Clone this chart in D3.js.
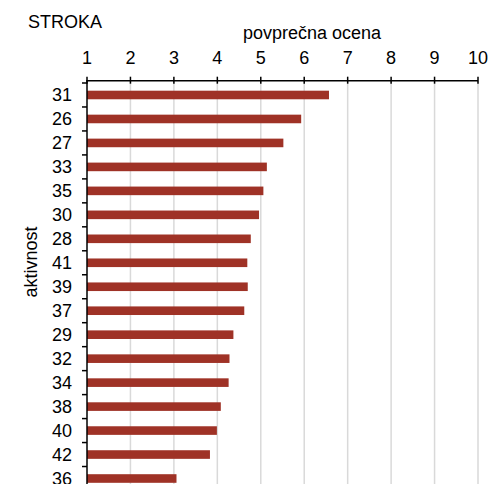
<!DOCTYPE html>
<html>
<head>
<meta charset="utf-8">
<script src="https://cdn.jsdelivr.net/npm/d3@7"></script>
<style>
  html, body { margin: 0; padding: 0; background: #fff; }
  svg { display: block; }
  text { font-family: "Liberation Sans", Arial, sans-serif; fill: #000; }
</style>
</head>
<body>
<svg id="chart" width="496" height="484"></svg>
<script>
// Activity codes, top to bottom, and their average ratings
const activities = ["31", "26", "27", "33", "35", "30", "28", "41", "39", "37", "29", "32", "34", "38", "40", "42", "36"];
const ratings = [6.57, 5.93, 5.52, 5.14, 5.06, 4.96, 4.77, 4.69, 4.70, 4.62, 4.37, 4.28, 4.26, 4.08, 3.99, 3.83, 3.06];
const xTicks = [1, 2, 3, 4, 5, 6, 7, 8, 9, 10];

const svg = d3.select("#chart");
const W = 496, H = 484;
const plotLeft = 87, plotRight = 478, axisY = 80.7;
const step = 23.97, bandTop = 83;
const fontSize = 18;

const x = d3.scaleLinear().domain([1, 10]).range([plotLeft, plotRight]);
const y = d3.scaleBand()
  .domain(activities)
  .range([bandTop, bandTop + step * activities.length])
  .paddingInner(0.64)
  .paddingOuter(0.32);

// vertical gridlines
svg.append("g")
  .selectAll("line")
  .data(xTicks.slice(1))
  .join("line")
  .attr("x1", d => x(d)).attr("x2", d => x(d))
  .attr("y1", axisY).attr("y2", H)
  .attr("stroke", "#d9d9d9")
  .attr("stroke-width", 1.5);

// bars
svg.append("g")
  .selectAll("rect")
  .data(activities.map((a, i) => ({ a, v: ratings[i] })))
  .join("rect")
  .attr("x", x(1))
  .attr("y", d => y(d.a) + y.bandwidth() / 2 - 4.3)
  .attr("width", d => x(d.v) - x(1))
  .attr("height", 8.6)
  .attr("fill", "#9f3226");

// top axis
const xAxis = svg.append("g");
xAxis.append("line")
  .attr("x1", plotLeft).attr("x2", plotRight)
  .attr("y1", axisY).attr("y2", axisY)
  .attr("stroke", "#000").attr("stroke-width", 1.5);
xAxis.selectAll("line.tick")
  .data(xTicks)
  .join("line")
  .attr("class", "tick")
  .attr("x1", d => x(d)).attr("x2", d => x(d))
  .attr("y1", axisY - 4).attr("y2", axisY + 3)
  .attr("stroke", "#000").attr("stroke-width", 1.5);
xAxis.selectAll("text")
  .data(xTicks)
  .join("text")
  .attr("x", d => x(d))
  .attr("y", 64)
  .attr("text-anchor", "middle")
  .attr("font-size", fontSize)
  .text(d => d);

// left axis
const yAxis = svg.append("g");
yAxis.append("line")
  .attr("x1", plotLeft).attr("x2", plotLeft)
  .attr("y1", axisY - 0.75).attr("y2", H)
  .attr("stroke", "#000").attr("stroke-width", 1.5);
const boundaries = d3.range(activities.length + 1).map(i => bandTop + i * step);
yAxis.selectAll("line.tick")
  .data(boundaries)
  .join("line")
  .attr("class", "tick")
  .attr("x1", plotLeft - 5).attr("x2", plotLeft)
  .attr("y1", d => d).attr("y2", d => d)
  .attr("stroke", "#000").attr("stroke-width", 1.5);
yAxis.selectAll("text")
  .data(activities)
  .join("text")
  .attr("x", 72)
  .attr("y", d => y(d) + y.bandwidth() / 2)
  .attr("dy", "0.35em")
  .attr("text-anchor", "end")
  .attr("font-size", fontSize)
  .text(d => d);

// titles
svg.append("text")
  .attr("x", 28).attr("y", 28)
  .attr("font-size", fontSize)
  .text("STROKA");

svg.append("text")
  .attr("x", 312).attr("y", 39)
  .attr("text-anchor", "middle")
  .attr("font-size", fontSize)
  .text("povprečna ocena");

svg.append("text")
  .attr("transform", "translate(37,262) rotate(-90)")
  .attr("text-anchor", "middle")
  .attr("font-size", fontSize)
  .text("aktivnost");
</script>
</body>
</html>
